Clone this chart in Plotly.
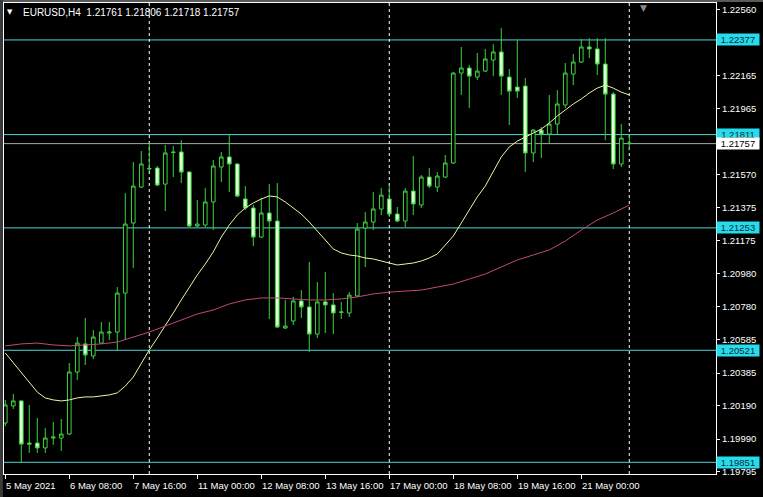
import plotly.graph_objects as go

# ---------------- data ----------------
days = ["5 May", "6 May", "7 May", "10 May", "11 May", "12 May", "13 May",
        "14 May", "17 May", "18 May", "19 May", "20 May", "21 May", "24 May"]
hours = ["00:00", "04:00", "08:00", "12:00", "16:00", "20:00"]

opens = [1.20086, 1.20188, 1.20218, 1.19966, 1.19966, 1.19937, 1.19996, 1.19996, 1.20020, 1.20391,
         1.20559, 1.20487, 1.20564, 1.20624, 1.20630, 1.20863, 1.21282, 1.21497, 1.21605, 1.21611,
         1.21515, 1.21707, 1.21707, 1.21587, 1.21264, 1.21270, 1.21408, 1.21617, 1.21677, 1.21635,
         1.21426, 1.21372, 1.21198, 1.21342, 1.21294, 1.20654, 1.20696, 1.20816, 1.20780, 1.20618,
         1.20810, 1.20792, 1.20747, 1.20744, 1.20846, 1.21252, 1.21288, 1.21366, 1.21426, 1.21336,
         1.21294, 1.21473, 1.21390, 1.21557, 1.21497, 1.21557, 1.21641, 1.22179, 1.22209, 1.22155,
         1.22191, 1.22257, 1.22305, 1.22155, 1.22095, 1.22101, 1.21701, 1.21838, 1.21814, 1.21874,
         1.21988, 1.22173, 1.22245, 1.22335, 1.22323, 1.22233, 1.22053, 1.21635, 1.21761]
highs = [1.20224, 1.20260, 1.20224, 1.20194, 1.20116, 1.20056, 1.20092, 1.20110, 1.20445, 1.20600,
         1.20714, 1.20642, 1.20690, 1.20690, 1.20899, 1.21461, 1.21647, 1.21713, 1.21766, 1.21623,
         1.21749, 1.21743, 1.21778, 1.21593, 1.21420, 1.21491, 1.21659, 1.21707, 1.21814, 1.21641,
         1.21503, 1.21390, 1.21432, 1.21515, 1.21521, 1.20822, 1.20840, 1.20881, 1.21049, 1.20929,
         1.20989, 1.20863, 1.20810, 1.20869, 1.21282, 1.21348, 1.21467, 1.21491, 1.21509, 1.21378,
         1.21491, 1.21683, 1.21569, 1.21611, 1.21587, 1.21689, 1.22185, 1.22335, 1.22227, 1.22299,
         1.22323, 1.22352, 1.22448, 1.22203, 1.22376, 1.22149, 1.21844, 1.21856, 1.22048, 1.22077,
         1.22239, 1.22293, 1.22382, 1.22388, 1.22388, 1.22388, 1.22065, 1.21874, 1.21806]
lows = [1.20068, 1.20170, 1.19853, 1.19907, 1.19907, 1.19907, 1.19955, 1.19919, 1.20014, 1.20343,
        1.20433, 1.20469, 1.20559, 1.20582, 1.20523, 1.20582, 1.21013, 1.21491, 1.21593, 1.21503,
        1.21354, 1.21557, 1.21521, 1.21258, 1.21258, 1.21258, 1.21240, 1.21527, 1.21467, 1.21437,
        1.21360, 1.21144, 1.21192, 1.20708, 1.20654, 1.20650, 1.20672, 1.20714, 1.20511, 1.20594,
        1.20624, 1.20618, 1.20708, 1.20720, 1.20840, 1.21019, 1.21240, 1.21330, 1.21318, 1.21288,
        1.21258, 1.21330, 1.21372, 1.21491, 1.21467, 1.21551, 1.21635, 1.22048, 1.21970, 1.22137,
        1.22185, 1.22161, 1.22048, 1.21868, 1.22030, 1.21587, 1.21647, 1.21671, 1.21760, 1.21808,
        1.21970, 1.22107, 1.22239, 1.22269, 1.22167, 1.21778, 1.21605, 1.21617, 1.21718]
closes = [1.20194, 1.20218, 1.19960, 1.19960, 1.19937, 1.19996, 1.20002, 1.20020, 1.20391, 1.20564,
          1.20493, 1.20600, 1.20630, 1.20630, 1.20863, 1.21276, 1.21503, 1.21635, 1.21608, 1.21509,
          1.21701, 1.21704, 1.21587, 1.21264, 1.21276, 1.21408, 1.21623, 1.21677, 1.21635, 1.21443,
          1.21372, 1.21198, 1.21342, 1.21294, 1.20660, 1.20666, 1.20816, 1.20780, 1.20618, 1.20810,
          1.20792, 1.20744, 1.20750, 1.20851, 1.21246, 1.21288, 1.21366, 1.21449, 1.21336, 1.21294,
          1.21473, 1.21396, 1.21557, 1.21503, 1.21563, 1.21641, 1.22179, 1.22209, 1.22161, 1.22191,
          1.22263, 1.22305, 1.22161, 1.22071, 1.22071, 1.21701, 1.21838, 1.21814, 1.21874, 1.21994,
          1.22179, 1.22245, 1.22335, 1.22323, 1.22233, 1.22053, 1.21635, 1.21790, 1.21757]

# fast moving average (yellow), one value per bar
ma_fast = [1.20505, 1.20445, 1.20385, 1.20331, 1.20271, 1.20236, 1.20224, 1.20218, 1.20224, 1.20236,
           1.20242, 1.20242, 1.20248, 1.20254, 1.20266, 1.20307, 1.20361, 1.20445, 1.20523, 1.20594,
           1.20666, 1.20744, 1.20822, 1.20899, 1.20971, 1.21037, 1.21109, 1.21198, 1.21270, 1.21330,
           1.21372, 1.21402, 1.21426, 1.21444, 1.21438, 1.21408, 1.21372, 1.21336, 1.21288, 1.21234,
           1.21180, 1.21127, 1.21103, 1.21091, 1.21085, 1.21073, 1.21067, 1.21055, 1.21043, 1.21031,
           1.21037, 1.21043, 1.21055, 1.21073, 1.21097, 1.21151, 1.21204, 1.21282, 1.21360, 1.21438,
           1.21503, 1.21587, 1.21677, 1.21737, 1.21772, 1.21796, 1.21820, 1.21844, 1.21880, 1.21922,
           1.21958, 1.21994, 1.22024, 1.22060, 1.22089, 1.22107, 1.22089, 1.22065, 1.22048]

# slow moving average (pink), read every second bar
ma_slow_bars = list(range(0, 79, 2))
ma_slow = [1.20547, 1.20559, 1.20564, 1.20553, 1.20547, 1.20553, 1.20559, 1.20570, 1.20600, 1.20630,
           1.20666, 1.20702, 1.20738, 1.20762, 1.20798, 1.20822, 1.20834, 1.20834, 1.20828, 1.20822,
           1.20822, 1.20828, 1.20840, 1.20858, 1.20869, 1.20875, 1.20881, 1.20899, 1.20917, 1.20947,
           1.20977, 1.21019, 1.21061, 1.21091, 1.21121, 1.21174, 1.21240, 1.21300, 1.21342, 1.21390]

levels = [1.22377, 1.21811, 1.21253, 1.20521, 1.19851]
y_ticks = [1.22560, 1.22365, 1.22165, 1.21965, 1.21570, 1.21375, 1.21175,
           1.20980, 1.20780, 1.20585, 1.20385, 1.20190, 1.19990, 1.19795]
tick_times = ["5 May 00:00", "6 May 08:00", "7 May 16:00", "11 May 00:00", "12 May 08:00",
              "13 May 16:00", "17 May 00:00", "18 May 08:00", "19 May 16:00", "21 May 00:00"]
tick_labels = ["5 May 2021", "6 May 08:00", "7 May 16:00", "11 May 00:00", "12 May 08:00",
               "13 May 16:00", "17 May 00:00", "18 May 08:00", "19 May 16:00", "21 May 00:00"]
week_starts = ["10 May 00:00", "17 May 00:00", "24 May 00:00"]
symbol = "EURUSD,H4"

# ---------------- build ----------------
bar_times = [f"{d} {h}" for d in days for h in hours][:len(opens)]
xs = list(range(len(bar_times)))
tick_pos = [bar_times.index(t) for t in tick_times]
sep_pos = [bar_times.index(t) for t in week_starts]

FONT = "Liberation Sans"
FS = 9.5
GREEN = "#3ed23e"
CYAN_LINE = "#4fd6d6"
CYAN_BOX = "#26dcec"

fig = go.Figure()
fig.add_trace(go.Candlestick(
    x=xs, open=opens, high=highs, low=lows, close=closes,
    increasing=dict(line=dict(color=GREEN, width=1), fillcolor="#000000"),
    decreasing=dict(line=dict(color=GREEN, width=1), fillcolor="#dcffd4"),
    whiskerwidth=0, showlegend=False, hoverinfo="skip"))
fig.add_trace(go.Scatter(x=xs, y=ma_fast, mode="lines",
                         line=dict(color="#f2f2a6", width=1), showlegend=False, hoverinfo="skip"))
fig.add_trace(go.Scatter(x=ma_slow_bars, y=ma_slow, mode="lines",
                         line=dict(color="#c04a78", width=1), showlegend=False, hoverinfo="skip"))

shapes = []
for lv in levels:
    shapes.append(dict(type="line", xref="paper", x0=0, x1=1, yref="y", y0=lv, y1=lv,
                       line=dict(color=CYAN_LINE, width=1), layer="below"))
shapes.append(dict(type="line", xref="paper", x0=0, x1=1, yref="y", y0=closes[-1], y1=closes[-1],
                   line=dict(color="#a8a8a8", width=1), layer="below"))
for sp in sep_pos:
    shapes.append(dict(type="line", xref="x", x0=sp, x1=sp, yref="paper", y0=0, y1=1,
                       line=dict(color="#ffffff", width=1, dash="3px,3px"), layer="below"))
# window frame strips (top and left)
shapes.append(dict(type="rect", xref="paper", yref="paper", x0=-0.01, x1=1.07, y0=1.002,
                   y1=1.0075, fillcolor="#5a5a5a", line=dict(width=0)))
shapes.append(dict(type="rect", xref="paper", yref="paper", x0=-0.0057, x1=-0.0015, y0=-0.05,
                   y1=1.0075, fillcolor="#3a3a3a", line=dict(width=0)))

annotations = []
for pos, lab in zip(tick_pos, tick_labels):
    annotations.append(dict(x=pos, xref="x", y=0, yref="paper", xanchor="left", yanchor="top",
                            yshift=-4, xshift=-1, text=lab, showarrow=False,
                            font=dict(family=FONT, size=FS, color="#ffffff")))
for lv in levels:
    annotations.append(dict(x=1, xref="paper", y=lv, yref="y", xanchor="left", yanchor="middle",
                            xshift=0, text=f"{lv:.5f}", showarrow=False, bgcolor=CYAN_BOX,
                            width=42, height=11, borderpad=0, align="center",
                            font=dict(family=FONT, size=FS, color="#0d2a33")))
annotations.append(dict(x=1, xref="paper", y=closes[-1], yref="y", xanchor="left", yanchor="middle",
                        text=f"{closes[-1]:.5f}", showarrow=False, bgcolor="#ffffff",
                        width=42, height=11, borderpad=0, align="center",
                        font=dict(family=FONT, size=FS, color="#000000")))
title = f"{symbol}  {opens[-1]:.5f} {highs[-1]:.5f} {lows[-1]:.5f} {closes[-1]:.5f}"
annotations.append(dict(x=0.0239, xref="paper", y=0.98, yref="paper", xanchor="left",
                        yanchor="middle", text=title, showarrow=False,
                        font=dict(family=FONT, size=10, color="#ffffff")))
annotations.append(dict(x=0.0085, xref="paper", y=0.98, yref="paper", xanchor="center",
                        yanchor="middle", text="▼", showarrow=False,
                        font=dict(family="DejaVu Sans", size=7, color="#ffffff")))
annotations.append(dict(x=0.8975, xref="paper", y=1.0, yref="paper", xanchor="center",
                        yanchor="top", yshift=2, text="▼", showarrow=False,
                        font=dict(family="DejaVu Sans", size=9, color="#8a8a8a")))

fig.update_layout(
    width=763, height=497,
    margin=dict(l=4, r=47, t=3, b=23),
    paper_bgcolor="#000000", plot_bgcolor="#000000",
    boxgap=0.35,
    shapes=shapes, annotations=annotations,
    xaxis=dict(range=[-0.16, 88.84], rangeslider=dict(visible=False), showgrid=False,
               zeroline=False, tickmode="array", tickvals=tick_pos, showticklabels=False,
               ticks="outside", ticklen=4, tickcolor="#ffffff", showline=True,
               linecolor="#ffffff", linewidth=1, mirror=True),
    yaxis=dict(range=[1.19781, 1.22598], side="right", showgrid=False, zeroline=False,
               tickmode="array", tickvals=y_ticks, ticktext=[f"{v:.5f}" for v in y_ticks],
               ticks="outside", ticklen=3, tickcolor="#ffffff",
               tickfont=dict(family=FONT, size=FS, color="#ffffff"),
               showline=True, linecolor="#ffffff", linewidth=1, mirror=True),
    font=dict(family=FONT, size=FS, color="#ffffff"),
)

fig.write_html(
    "out.html",
    config={"displayModeBar": False},
    post_script="document.body.style.margin='0';document.body.style.background='#000';",
)
